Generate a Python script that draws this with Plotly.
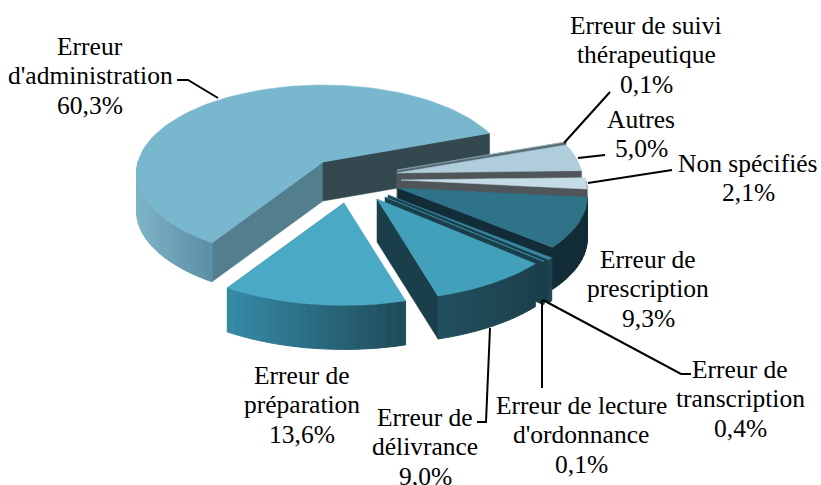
# pie3d.py
import math
import plotly.graph_objects as go

# Slices in counter-clockwise order, starting from the administration slice
categories = ["Erreur d'administration", "Erreur de préparation", "Erreur de délivrance",
              "Erreur de lecture d'ordonnance", "Erreur de transcription", "Erreur de prescription",
              "Non spécifiés", "Autres", "Erreur de suivi thérapeutique"]
values = [60.3, 13.6, 9.0, 0.1, 0.4, 9.3, 2.1, 5.0, 0.1]
value_labels = ["60,3%", "13,6%", "9,0%", "0,1%", "0,4%", "9,3%", "2,1%", "5,0%", "0,1%"]

START_ANGLE = 20.3
RX, RY, PERSP = 185, 86.2, 0.0909

# apex in pixels, scale, depth, top colour, cut face colours, outer side gradient
SLICE_STYLE = {
    "Erreur d'administration": dict(apex=(323, 162), scale=1.0, depth=39, top="#78b7ce", persp=0.12,
                                    face1="#33484f", face2="#537e8e", side=("#7fb3c8", "#5c8fa3")),
    "Erreur de préparation": dict(apex=(344, 203), scale=1.08, depth=44, top="#4aa9c5",
                                  face1="#2f7f98", side=("#368ca8", "#1e4a57")),
    "Erreur de délivrance": dict(apex=(377, 199), scale=1.07, depth=43, top="#43a0ba",
                                 face1="#1b3f4a", side=("#234f5e", "#1c404c")),
    "Erreur de lecture d'ordonnance": dict(apex=(385, 197), scale=1.07, depth=43, top="#43a0ba",
                                           face1="#1b3f4a", side=("#1c414d", "#1c414d")),
    "Erreur de transcription": dict(apex=(388, 195), scale=1.08, depth=43, top="#37879f",
                                    face1="#1b3f4a", side=("#1e4654", "#1e4654")),
    "Erreur de prescription": dict(apex=(398, 188), scale=1.02, depth=42, top="#2f7389",
                                   face1="#132d38", side=("#132d38", "#132d38")),
    "Non spécifiés": dict(apex=(401, 180), scale=1.0, depth=38, top="#c5dce6",
                          face1="#4f5559", side=("#4f5559", "#4f5559")),
    "Autres": dict(apex=(397, 173), scale=1.0, depth=38, top="#afcdda",
                   face1="#4f5559", side=("#4f5559", "#4f5559")),
    "Erreur de suivi thérapeutique": dict(apex=(397, 170), scale=1.0, depth=38, top="#8fb0bf",
                                          face1="#596c76", side=("#596c76", "#596c76")),
}

# Painter's order, back to front
DRAW_ORDER = ["Erreur d'administration", "Erreur de suivi thérapeutique", "Autres", "Non spécifiés",
              "Erreur de prescription", "Erreur de transcription", "Erreur de lecture d'ordonnance",
              "Erreur de délivrance", "Erreur de préparation"]

# text lines above the value, centre x, y of the first line
LABELS = {
    "Erreur d'administration": (["Erreur", "d'administration"], 90, 46),
    "Erreur de suivi thérapeutique": (["Erreur de suivi", "thérapeutique"], 646, 25),
    "Autres": (["Autres"], 641, 119),
    "Non spécifiés": (["Non spécifiés"], 748, 163),
    "Erreur de prescription": (["Erreur de", "prescription"], 648, 259),
    "Erreur de transcription": (["Erreur de", "transcription"], 740, 369),
    "Erreur de lecture d'ordonnance": (["Erreur de lecture", "d'ordonnance"], 581, 405),
    "Erreur de délivrance": (["Erreur de", "délivrance"], 425, 417),
    "Erreur de préparation": (["Erreur de", "préparation"], 302, 375),
}
LINE_STEP = 29.5

LEADERS = [
    [(177, 80), (188, 80), (218, 98)],
    [(564, 143), (610, 92)],
    [(578, 158), (605, 155)],
    [(588, 183), (672, 170)],
    [(543, 300), (681, 374), (691, 374)],
    [(542, 300), (542, 388)],
    [(490, 328), (486, 422), (477, 422)],
]


def hex_mix(c1, c2, t):
    a = [int(c1[i:i + 2], 16) for i in (1, 3, 5)]
    b = [int(c2[i:i + 2], 16) for i in (1, 3, 5)]
    return "rgb(%d,%d,%d)" % tuple(round(a[i] + (b[i] - a[i]) * t) for i in range(3))


def project(theta, style):
    # perspective view of a point on the rim of the disc
    s, c = math.sin(math.radians(theta)), math.cos(math.radians(theta))
    w = 1 + style.get("persp", PERSP) * s
    ax, ay = style["apex"]
    return ax + style["scale"] * RX * c / w, ay - style["scale"] * RY * s / w


def polygon(fig, pts, color, edge=0):
    fig.add_trace(go.Scatter(
        x=[p[0] for p in pts] + [pts[0][0]],
        y=[p[1] for p in pts] + [pts[0][1]],
        mode="lines",
        fill="toself",
        fillcolor=color,
        line=dict(color=color, width=edge),
        hoverinfo="skip",
        showlegend=False,
    ))


def draw_slice(fig, name, a1, a2):
    st = SLICE_STYLE[name]
    d = st["depth"]
    apex = st["apex"]
    down = lambda p: (p[0], p[1] + d)

    # cut faces, the second one only shows on the big slice
    for ang, key in ((a2, "face2"), (a1, "face1")):
        if key in st:
            p = project(ang, st)
            polygon(fig, [apex, p, down(p), down(apex)], st[key], 0.5)

    # outer side, only the part of the rim facing the viewer
    n = max(2, int((a2 - a1) / 2.5))
    angles = [a1 + (a2 - a1) * i / n for i in range(n + 1)]
    strips = [(a, b) for a, b in zip(angles[:-1], angles[1:])
              if math.sin(math.radians((a + b) / 2)) < 0]
    if strips:
        xs = [project(a, st)[0] for pair in strips for a in pair]
        xmin, xmax = min(xs), max(xs)
        for a, b in strips:
            p, q = project(a, st), project(b, st)
            t = ((p[0] + q[0]) / 2 - xmin) / max(xmax - xmin, 1)
            polygon(fig, [p, q, down(q), down(p)], hex_mix(st["side"][0], st["side"][1], t), 1)

    # top
    polygon(fig, [apex] + [project(a, st) for a in angles], st["top"], 0.5)


fig = go.Figure()

# Angles come from the values, the slices being drawn in the order of DRAW_ORDER
spans = {}
angle = START_ANGLE
for name, val in zip(categories, values):
    spans[name] = (angle, angle + val * 3.6)
    angle += val * 3.6

for name in DRAW_ORDER:
    draw_slice(fig, name, *spans[name])

for pts in LEADERS:
    fig.add_trace(go.Scatter(
        x=[p[0] for p in pts], y=[p[1] for p in pts], mode="lines",
        line=dict(color="black", width=2), hoverinfo="skip", showlegend=False,
    ))

for name, val in zip(categories, value_labels):
    lines, x, y = LABELS[name]
    for i, line in enumerate(lines + [val]):
        fig.add_annotation(x=x, y=y + i * LINE_STEP, text=line, showarrow=False,
                           xanchor="center", yanchor="middle", align="center",
                           font=dict(family="Liberation Serif", size=25.5, color="black"))

fig.update_layout(
    width=821,
    height=485,
    margin=dict(l=0, r=0, t=0, b=0),
    paper_bgcolor="white",
    plot_bgcolor="white",
    xaxis=dict(range=[0, 821], visible=False, fixedrange=True),
    yaxis=dict(range=[485, 0], visible=False, fixedrange=True),
)

fig.write_html("out.html", config=dict(displayModeBar=False),
               post_script="document.body.style.margin='0';")
